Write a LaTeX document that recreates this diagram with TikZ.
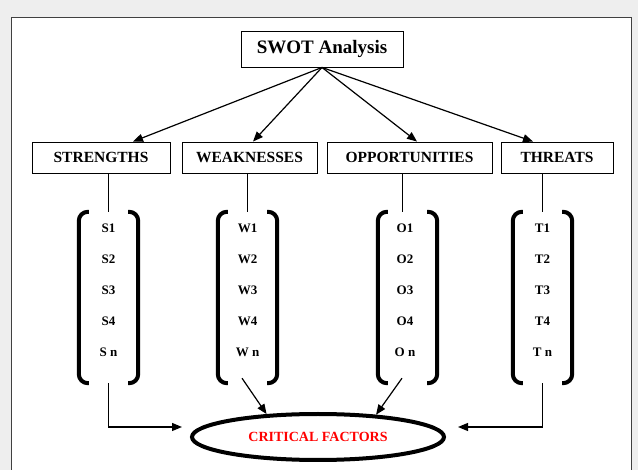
\documentclass[tikz,border=0pt]{standalone}
\usepackage{fontspec}
\setmainfont{Liberation Serif}
\usetikzlibrary{positioning,calc,shapes.geometric,arrows.meta}

\begin{document}
\begin{tikzpicture}[x=1pt,y=-1pt,
  box/.style={draw, line width=0.9pt, minimum height=31pt, inner sep=0pt, font=\fontsize{15.5}{18}\selectfont\bfseries},
  item/.style={font=\fontsize{13}{15}\selectfont\bfseries, inner sep=0pt},
  grp/.style={minimum width=59pt, minimum height=171pt, inner sep=0pt},
  brk/.style={line width=4pt, rounded corners=9pt},
  arr/.style={line width=1.2pt, -{Triangle[length=10pt,width=8pt]}}]

  % page and frame
  \fill[gray!13] (0,0) rectangle (638,470);
  \useasboundingbox (0,0) rectangle (638,470);
  \fill[white] (11.5,17.5) rectangle (631.5,470);
  \draw[line width=1.5pt, black!75] (11.5,470) -- (11.5,17.5) -- (631.5,17.5) -- (631.5,470);

  \node[box, minimum width=162pt, minimum height=36pt, font=\fontsize{19}{22}\selectfont\bfseries] (swot) at (322,49) {SWOT Analysis};

  \node[box, minimum width=138pt] (st) at (101,157.5) {STRENGTHS};
  \node[box, minimum width=135pt] (wk) at (249.5,157.5) {WEAKNESSES};
  \node[box, minimum width=165pt] (op) at (409.5,157.5) {OPPORTUNITIES};
  \node[box, minimum width=112pt] (th) at (557,157.5) {THREATS};

  \node[grp] (sg) at (108.5,297.5) {};
  \node[grp] (wg) at (247.5,297.5) {};
  \node[grp] (og) at (407.5,297.5) {};
  \node[grp] (tg) at (542.5,297.5) {};

  \foreach \i/\lab in {1/1,2/2,3/3,4/4,5/\ n} {
    \node[item] (s\i) at (108.5,{228+31*(\i-1)}) {S\lab};
    \node[item] (w\i) at (247.5,{228+31*(\i-1)}) {W\lab};
    \node[item] (o\i) at (405,{228+31*(\i-1)}) {O\lab};
    \node[item] (t\i) at (542.5,{228+31*(\i-1)}) {T\lab};
  }

  % brackets
  \foreach \g in {sg,wg,og,tg} {
    \draw[brk] ([xshift=10pt]\g.north west) -- (\g.north west) -- (\g.south west) -- ([xshift=10pt]\g.south west);
    \draw[brk] ([xshift=-10pt]\g.north east) -- (\g.north east) -- (\g.south east) -- ([xshift=-10pt]\g.south east);
  }

  \draw[arr] (swot.south) -- ([xshift=32pt]st.north);
  \draw[arr] (swot.south) -- ([xshift=3.5pt]wk.north);
  \draw[arr] (swot.south) -- ([xshift=7.5pt]op.north);
  \draw[arr] (swot.south) -- ([xshift=-24pt]th.north);

  \draw[line width=1.2pt] (st.south -| sg.north) -- (sg.north);
  \draw[line width=1.2pt] (wk.south -| wg.north) -- (wg.north);
  \draw[line width=1.2pt] ([xshift=-5pt]og.north |- op.south) -- ([xshift=-5pt]og.north);
  \draw[line width=1.2pt] (th.south -| tg.north) -- (tg.north);

  \node[draw, ellipse, line width=4pt, minimum width=252pt, minimum height=46pt, text=red, font=\fontsize{14}{16}\selectfont\bfseries] (cf) at (318,437) {CRITICAL FACTORS};

  \draw[arr] (sg.south) |- ([xshift=-8pt,yshift=10pt]cf.west);
  \draw[arr] ([xshift=-5.5pt,yshift=5pt]wg.south) -- (cf.156);
  \draw[arr] ([xshift=-5.5pt,yshift=5pt]og.south) -- (cf.21);
  \draw[arr] (tg.south) |- ([xshift=12pt,yshift=10pt]cf.east);
\end{tikzpicture}
\end{document}
